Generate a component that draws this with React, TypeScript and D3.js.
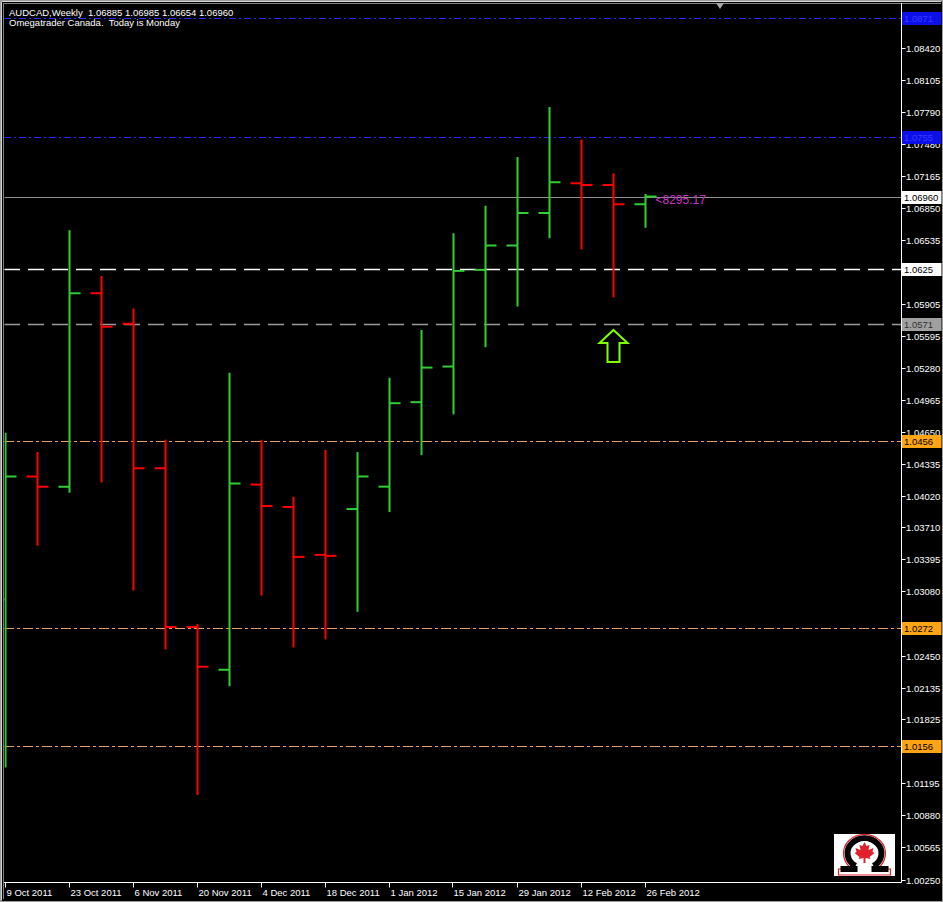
import * as d3 from 'd3';

// weekly AUDCAD bars
const weeks = [
  '2011-10-09', '2011-10-16', '2011-10-23', '2011-10-30', '2011-11-06', '2011-11-13',
  '2011-11-20', '2011-11-27', '2011-12-04', '2011-12-11', '2011-12-18', '2011-12-25',
  '2012-01-01', '2012-01-08', '2012-01-15', '2012-01-22', '2012-01-29', '2012-02-05',
  '2012-02-12', '2012-02-19', '2012-02-26',
];
const opens = [1.03, 1.0421, 1.0411, 1.0601, 1.0571, 1.0429, 1.0273, 1.0231, 1.0413, 1.0391, 1.0344,
  1.0389, 1.0411, 1.0494, 1.0529, 1.0624, 1.0648, 1.068, 1.0709, 1.07075, 1.06885];
const highs = [1.0464, 1.0445, 1.0663, 1.0618, 1.0586, 1.0457, 1.0276, 1.0523, 1.0457, 1.0401, 1.0447,
  1.0445, 1.0518, 1.0565, 1.066, 1.0687, 1.0735, 1.0784, 1.0752, 1.0719, 1.06985];
const lows = [1.0135, 1.0353, 1.0405, 1.0415, 1.0309, 1.0251, 1.0108, 1.0215, 1.0304, 1.0253, 1.0261,
  1.0288, 1.0386, 1.0442, 1.0482, 1.0548, 1.0588, 1.0655, 1.0644, 1.0597, 1.06654];
const closes = [1.0421, 1.0411, 1.0601, 1.0568, 1.0429, 1.0273, 1.0234, 1.0414, 1.0392, 1.0342, 1.0343,
  1.0421, 1.0493, 1.0528, 1.0623, 1.0648, 1.068, 1.071, 1.07075, 1.06885, 1.0696];

// labels fully covered by the level boxes (1.08735, 1.06220, 1.01510) are left out
const priceTicks = ['1.08420', '1.08105', '1.07790', '1.07480', '1.07165', '1.06850', '1.06535',
  '1.05905', '1.05595', '1.05280', '1.04965', '1.04650', '1.04335', '1.04020', '1.03710',
  '1.03395', '1.03080', '1.02765', '1.02450', '1.02135', '1.01825', '1.01195', '1.00880',
  '1.00565', '1.00250'];

const dateTicks = ['2011-10-09', '2011-10-23', '2011-11-06', '2011-11-20', '2011-12-04', '2011-12-18',
  '2012-01-01', '2012-01-15', '2012-01-29', '2012-02-12', '2012-02-26'];

// horizontal levels: price, label, line colour, dash, label bg, label text
const levels = [
  { price: 1.0871, label: '1.0871', color: '#2a2aff', dash: '7 3 2 3', width: 1, bg: '#0c10e8', fg: '#3a3aff' },
  { price: 1.0755, label: '1.0755', color: '#2a2aff', dash: '7 3 2 3', width: 1, bg: '#0c10e8', fg: '#3a3aff' },
  { price: 1.0696, label: '1.06960', color: '#8c8c8c', dash: '', width: 1, bg: '#ffffff', fg: '#000000' },
  { price: 1.0625, label: '1.0625', color: '#ffffff', dash: '16 8', width: 1.6, bg: '#ffffff', fg: '#000000' },
  { price: 1.0571, label: '1.0571', color: '#9a9a9a', dash: '16 8', width: 1.4, bg: '#a0a0a0', fg: '#333333' },
  { price: 1.0456, label: '1.0456', color: '#e6a06a', dash: '10 3 3 3', width: 1, bg: '#ffa414', fg: '#000000' },
  { price: 1.0272, label: '1.0272', color: '#e6a06a', dash: '10 3 3 3', width: 1, bg: '#ffa414', fg: '#000000' },
  { price: 1.0156, label: '1.0156', color: '#e6a06a', dash: '10 3 3 3', width: 1, bg: '#ffa414', fg: '#000000' },
];

const arrowWeek = '2012-02-19';
const arrowPrice = 1.0565;
const balanceText = '<8295.17';

const W = 943;
const H = 902;
const plotLeft = 4;
const plotRight = 901.5;
const plotTop = 3;
const plotBottom = 882.5;

const parse = d3.utcParse('%Y-%m-%d');
const fmtDate = d3.utcFormat('%-d %b %Y');

const x = d3.scaleUtc()
  .domain([parse(weeks[0])!, parse(weeks[weeks.length - 1])!])
  .range([5.5, 645.5]);
const y = d3.scaleLinear().domain([1.0025, 1.0842]).range([879.5, 48]);

const GREEN = '#32cd32';
const RED = '#ff0000';
const FONT = '"Liberation Sans", Arial, sans-serif';

function Logo() {
  const cx = 864.5;
  const cy = 853;
  return (
    <g>
      <rect x={834} y={834} width={61} height={42} fill="#ffffff" />
      {/* red outline */}
      <path
        d={`M ${cx - 12} ${cy + 16} A 21 19 0 1 1 ${cx + 12} ${cy + 16} L ${cx + 26} ${cy + 16} L ${cx + 26} ${cy + 22} L ${cx - 26} ${cy + 22} L ${cx - 26} ${cy + 16} Z`}
        fill="none" stroke="#e0202a" strokeWidth={1.2} />
      {/* black omega */}
      <path
        d={`M ${cx - 9} ${cy + 13} A 17 15 0 1 1 ${cx + 9} ${cy + 13}`}
        fill="none" stroke="#000000" strokeWidth={6} />
      <rect x={cx - 24} y={cy + 13} width={17} height={6} fill="#000" />
      <rect x={cx + 7} y={cy + 13} width={17} height={6} fill="#000" />
      <circle cx={cx} cy={cy - 1} r={11} fill="#ffffff" />
      <path
        d={`M ${cx} ${cy - 11} L ${cx + 2} ${cy - 7} L ${cx + 5} ${cy - 8} L ${cx + 4} ${cy - 3} L ${cx + 9} ${cy - 5} L ${cx + 8} ${cy - 1} L ${cx + 10} ${cy} L ${cx + 5} ${cy + 4} L ${cx + 6} ${cy + 6} L ${cx + 1} ${cy + 5} L ${cx + 1} ${cy + 10} L ${cx - 1} ${cy + 10} L ${cx - 1} ${cy + 5} L ${cx - 6} ${cy + 6} L ${cx - 5} ${cy + 4} L ${cx - 10} ${cy} L ${cx - 8} ${cy - 1} L ${cx - 9} ${cy - 5} L ${cx - 4} ${cy - 3} L ${cx - 5} ${cy - 8} L ${cx - 2} ${cy - 7} Z`}
        fill="#e0202a" />
    </g>
  );
}

export default function App() {
  const bars = weeks.map((w, i) => ({
    x: x(parse(w)!),
    o: y(opens[i]), h: y(highs[i]), l: y(lows[i]), c: y(closes[i]),
    up: closes[i] > opens[i],
  }));
  const last = bars[bars.length - 1];
  const ax = x(parse(arrowWeek)!);
  const ay = y(arrowPrice);

  return (
    <svg width={W} height={H} style={{ position: 'absolute', left: 0, top: 0, background: '#000' }}
      fontFamily={FONT}>
      <defs>
        <clipPath id="plot">
          <rect x={plotLeft + 0.5} y={plotTop} width={plotRight - plotLeft - 0.5} height={plotBottom - plotTop} />
        </clipPath>
      </defs>
      <rect x={0} y={0} width={W} height={H} fill="#000" />
      {/* window frame */}
      <rect x={0.5} y={0.5} width={W - 1} height={H - 1} fill="none" stroke="#9c9c9c" />
      <line x1={1.5} y1={1.5} x2={W - 1.5} y2={1.5} stroke="#d4d4d4" />
      <line x1={1.5} y1={1.5} x2={1.5} y2={H - 1.5} stroke="#d4d4d4" />
      <line x1={plotLeft} y1={plotTop + 0.5} x2={W - 2} y2={plotTop + 0.5} stroke="#808080" />
      <line x1={plotLeft - 0.5} y1={plotTop} x2={plotLeft - 0.5} y2={H - 3} stroke="#808080" />

      {/* header */}
      <text x={9} y={16} fill="#ffffff" fontSize={9.5} style={{ whiteSpace: 'pre' }}>
        {`AUDCAD,Weekly  ${opens[20].toFixed(5)} ${highs[20].toFixed(5)} ${lows[20].toFixed(5)} ${closes[20].toFixed(5)}`}
      </text>
      <text x={9} y={26} fill="#ffffff" fontSize={9.5} style={{ whiteSpace: 'pre' }}>
        {'Omegatrader Canada.  Today is Monday'}
      </text>

      {/* shift marker */}
      <path d="M 716 3 L 724 3 L 720 9 Z" fill="#a8a8a8" />

      <g clipPath="url(#plot)">
        {levels.map((lv) => (
          <line key={lv.label} x1={plotLeft} x2={plotRight} y1={Math.round(y(lv.price)) + 0.5}
            y2={Math.round(y(lv.price)) + 0.5} stroke={lv.color} strokeWidth={lv.width}
            strokeDasharray={lv.dash || undefined} />
        ))}
        {bars.map((b, i) => {
          const col = b.up ? GREEN : RED;
          return (
            <g key={i} stroke={col} strokeWidth={2}>
              <line x1={b.x} x2={b.x} y1={b.h} y2={b.l} />
              <line x1={b.x - 11} x2={b.x} y1={b.o} y2={b.o} />
              <line x1={b.x} x2={b.x + 11} y1={b.c} y2={b.c} />
            </g>
          );
        })}
        <text x={last.x + 10} y={last.c + 7} fill="#c832c8" fontSize={12}>{balanceText}</text>
        <polygon
          points={[[0, 0], [14, 13], [6, 13], [6, 32], [-6, 32], [-6, 13], [-14, 13]]
            .map(([dx, dy]) => `${ax + dx},${ay + dy}`).join(' ')}
          fill="none" stroke="#80ff00" strokeWidth={2} />
      </g>

      {/* axes */}
      <line x1={plotRight} x2={plotRight} y1={plotTop} y2={plotBottom} stroke="#ffffff" />
      <line x1={plotLeft} x2={plotRight} y1={plotBottom} y2={plotBottom} stroke="#ffffff" />

      {priceTicks.map((t) => {
        const ty = Math.round(y(+t)) + 0.5;
        return (
          <g key={t}>
            <line x1={plotRight} x2={plotRight + 4} y1={ty} y2={ty} stroke="#ffffff" />
            <text x={906} y={ty + 3.5} fill="#ffffff" fontSize={9.5}>{t}</text>
          </g>
        );
      })}

      {dateTicks.map((d) => {
        const tx = Math.round(x(parse(d)!)) - 0.5;
        return (
          <g key={d}>
            <line x1={tx} x2={tx} y1={plotBottom} y2={plotBottom + 5} stroke="#ffffff" />
            <text x={tx + 1} y={896} fill="#ffffff" fontSize={9.5}>{fmtDate(parse(d)!)}</text>
          </g>
        );
      })}

      {levels.map((lv) => {
        const ly = Math.round(y(lv.price));
        return (
          <g key={lv.label}>
            <rect x={plotRight + 0.5} y={ly - 6} width={W - plotRight - 2} height={13} fill={lv.bg} />
            <text x={904} y={ly + 4} fill={lv.fg} fontSize={9.5}>{lv.label}</text>
          </g>
        );
      })}

      <Logo />
    </svg>
  );
}
